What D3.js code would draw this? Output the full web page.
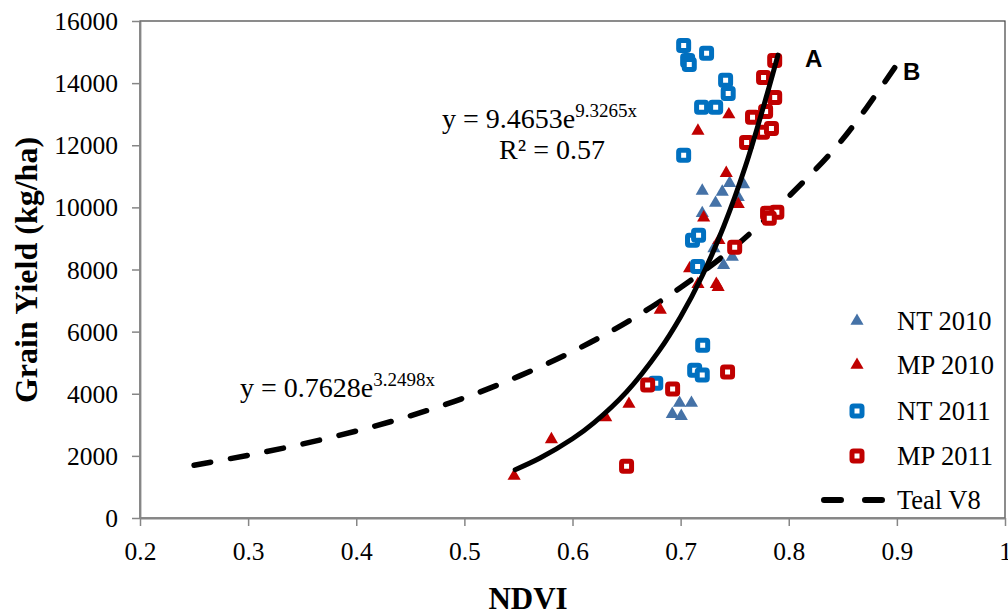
<!DOCTYPE html>
<html><head><meta charset="utf-8">
<script src="https://cdn.jsdelivr.net/npm/d3@7"></script>
<style>
html,body{margin:0;padding:0;background:#fff;}
svg text{font-family:"Liberation Serif","Times New Roman",serif;fill:#000;}
</style></head>
<body><svg id="chart" width="1008" height="613"></svg>
<script>
// ---- data ----
const xTickValues = [0.2,0.3,0.4,0.5,0.6,0.7,0.8,0.9,1];
const xTickLabels = ["0.2","0.3","0.4","0.5","0.6","0.7","0.8","0.9","1"];
const yTickValues = [0,2000,4000,6000,8000,10000,12000,14000,16000];
const yTickLabels = ["0","2000","4000","6000","8000","10000","12000","14000","16000"];

const nt2010 = [[0.720,10530],[0.7385,10500],[0.7453,10780],[0.7582,10740],[0.7323,10140],[0.720,9810],[0.7533,10330],[0.7308,8680],[0.7478,8400],[0.7397,8140],[0.699,3700],[0.710,3700],[0.6923,3345],[0.7006,3280]];
const mp2010 = [[0.7446,12990],[0.716,12460],[0.7422,11100],[0.7533,10100],[0.7213,9670],[0.7354,8940],[0.7083,8030],[0.716,7530],[0.733,7530],[0.7347,7430],[0.6812,6700],[0.546,1350],[0.5805,2530],[0.6307,3240],[0.6522,3670]];
const nt2011 = [[0.7028,15210],[0.7065,14730],[0.708,14600],[0.724,14960],[0.7416,14090],[0.744,13670],[0.7194,13220],[0.7324,13220],[0.7028,11680],[0.711,8940],[0.7166,9100],[0.7157,8100],[0.7204,5560],[0.713,4760],[0.720,4600],[0.677,4340]];
const mp2011 = [[0.787,14730],[0.7767,14180],[0.787,13540],[0.7665,12900],[0.7786,13090],[0.7758,12420],[0.784,12540],[0.761,12090],[0.7804,9810],[0.789,9840],[0.782,9650],[0.750,8720],[0.7434,4700],[0.6695,4280],[0.6926,4150],[0.650,1670]];
// Teal V8 line (B)
const tealX = [0.25,0.3,0.35,0.4,0.45,0.5,0.55,0.6,0.65,0.7,0.75,0.8,0.85,0.9];
const tealY = [1700,2020,2380,2800,3290,3870,4560,5360,6300,7420,8730,10350,12200,14600];
// exponential trend line (A)
const trendX = [0.547,0.57,0.6,0.62,0.65,0.68,0.7,0.72,0.74,0.76,0.78,0.79];
const trendY = [1555,1930,2550,3070,4060,5380,6480,7800,9400,11330,13650,14900];

const legendLabels = ["NT 2010","MP 2010","NT 2011","MP 2011","Teal V8"];
const colors = {nt2010:"#4572A7", mp2010:"#C00000", nt2011:"#0070C0", mp2011:"#C00000"};

// ---- chart ----
const svg = d3.select("#chart");
const L=140, R=1005, T=21, B=518;
const x = d3.scaleLinear().domain([0.2,1]).range([L,R]);
const y = d3.scaleLinear().domain([0,16000]).range([B,T]);

// plot border
svg.append("rect").attr("x",L).attr("y",T).attr("width",R-L).attr("height",B-T)
  .attr("fill","none").attr("stroke","#404040").attr("stroke-width",1.2);

// axes
const gx = svg.append("g").attr("transform",`translate(0,${B})`)
  .call(d3.axisBottom(x).tickValues(xTickValues).tickFormat((d,i)=>xTickLabels[i]).tickSize(8).tickSizeOuter(0));
const gy = svg.append("g").attr("transform",`translate(${L},0)`)
  .call(d3.axisLeft(y).tickValues(yTickValues).tickFormat((d,i)=>yTickLabels[i]).tickSize(8).tickSizeOuter(0));
[gx,gy].forEach(g=>{
  g.select(".domain").attr("stroke","#868686").attr("stroke-width",1.8);
  g.selectAll(".tick line").attr("stroke","#868686").attr("stroke-width",1.5);
  g.selectAll(".tick text").attr("font-family","Liberation Serif").attr("font-size",25.5).attr("fill","#000");
});
gx.selectAll(".tick text").attr("y",null).attr("dy",null).attr("transform","translate(0,42)");
gy.selectAll(".tick text").attr("x",-22).attr("dy",null).attr("transform","translate(0,8.5)");

// Teal V8 dashed line
const line = d3.line().x(d=>x(d[0])).y(d=>y(d[1])).curve(d3.curveCatmullRom.alpha(0.5));
svg.append("path").datum(tealX.map((v,i)=>[v,tealY[i]]))
  .attr("d",line).attr("fill","none").attr("stroke","#000").attr("stroke-width",5.5)
  .attr("stroke-dasharray","17 20").attr("stroke-linecap","round");

// markers
const tri = d3.symbol().type(d3.symbolTriangle).size(75);
function drawTri(data,color){
  svg.append("g").selectAll("path").data(data).join("path")
    .attr("d",tri).attr("transform",d=>`translate(${x(d[0])},${y(d[1])})`).attr("fill",color);
}
function drawSq(data,color){
  svg.append("g").selectAll("rect").data(data).join("rect")
    .attr("x",d=>x(d[0])-5).attr("y",d=>y(d[1])-5).attr("width",10).attr("height",10)
    .attr("rx",1.5).attr("fill","#fff").attr("stroke",color).attr("stroke-width",5);
}
drawTri(nt2010,colors.nt2010);
drawTri(mp2010,colors.mp2010);
drawSq(nt2011,colors.nt2011);
drawSq(mp2011,colors.mp2011);

// trend line A
svg.append("path").datum(trendX.map((v,i)=>[v,trendY[i]]))
  .attr("d",line).attr("fill","none").attr("stroke","#000").attr("stroke-width",5).attr("stroke-linecap","round");

// equations
const eq1 = svg.append("text").attr("x",442).attr("y",128).attr("font-size",28);
eq1.append("tspan").text("y = 9.4653e");
eq1.append("tspan").attr("font-size",19).attr("dy",-11).text("9.3265x");
svg.append("text").attr("x",552).attr("y",159).attr("font-size",28).attr("text-anchor","middle").text("R² = 0.57");
const eq2 = svg.append("text").attr("x",240).attr("y",397).attr("font-size",28);
eq2.append("tspan").text("y = 0.7628e");
eq2.append("tspan").attr("font-size",19).attr("dy",-11).text("3.2498x");

// A / B labels
svg.append("text").attr("x",805).attr("y",67).attr("font-weight","bold").attr("font-size",24).style("font-family","Liberation Sans, Arial, sans-serif").text("A");
svg.append("text").attr("x",903).attr("y",80).attr("font-weight","bold").attr("font-size",24).style("font-family","Liberation Sans, Arial, sans-serif").text("B");

// legend
const legY = [321,365,411,456,500];
const lg = svg.append("g");
legendLabels.forEach((t,i)=>{
  lg.append("text").attr("x",897).attr("y",legY[i]+9).attr("font-size",26.5).text(t);
});
lg.append("path").attr("d",tri).attr("transform",`translate(857,${legY[0]})`).attr("fill",colors.nt2010);
lg.append("path").attr("d",tri).attr("transform",`translate(857,${legY[1]})`).attr("fill",colors.mp2010);
lg.append("rect").attr("x",852).attr("y",legY[2]-5).attr("width",10).attr("height",10).attr("rx",1.5).attr("fill","#fff").attr("stroke",colors.nt2011).attr("stroke-width",5);
lg.append("rect").attr("x",852).attr("y",legY[3]-5).attr("width",10).attr("height",10).attr("rx",1.5).attr("fill","#fff").attr("stroke",colors.mp2011).attr("stroke-width",5);
lg.append("line").attr("x1",824).attr("x2",884).attr("y1",legY[4]).attr("y2",legY[4])
  .attr("stroke","#000").attr("stroke-width",6).attr("stroke-linecap","round").attr("stroke-dasharray","17 24");

// axis titles
svg.append("text").attr("transform","translate(37,270) rotate(-90)").attr("text-anchor","middle")
  .attr("font-weight","bold").attr("font-size",32).text("Grain Yield (kg/ha)");
svg.append("text").attr("x",528).attr("y",609).attr("text-anchor","middle")
  .attr("font-weight","bold").attr("font-size",31).text("NDVI");
</script></body></html>
